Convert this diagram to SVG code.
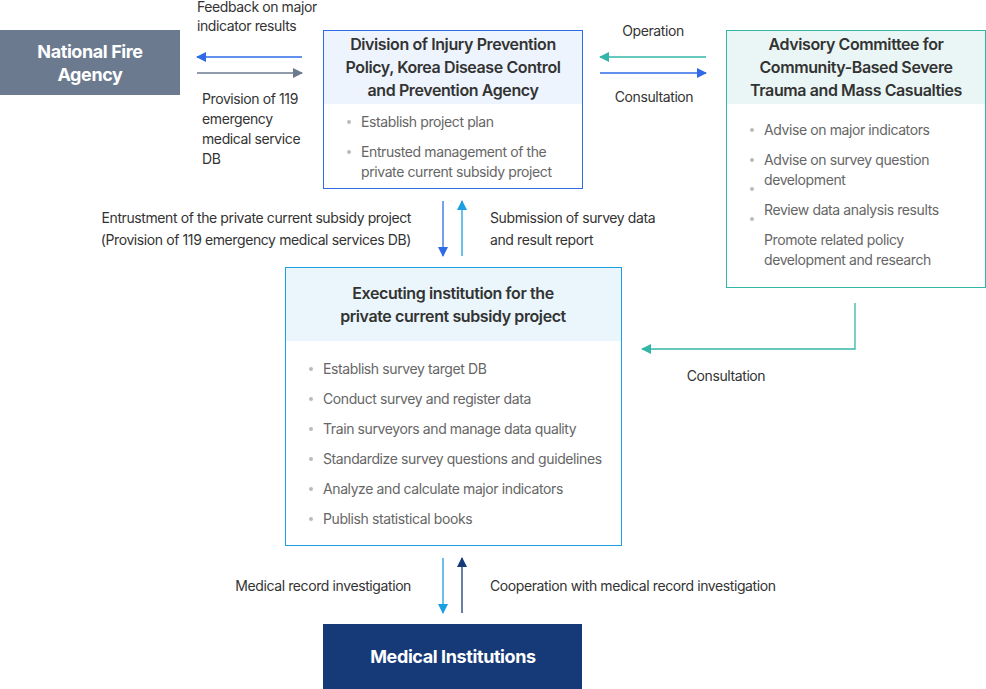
<svg xmlns="http://www.w3.org/2000/svg" width="986" height="689" viewBox="0 0 986 689">
<style>
text{font-family:Inter,"Noto Sans","Liberation Sans",sans-serif;letter-spacing:-0.4px}
.lbl{font-size:14px;fill:#333}
.b{font-size:14px;fill:#666}
.h{font-size:16px;font-weight:600;fill:#333;text-anchor:middle}
.w{font-size:18px;font-weight:700;fill:#fff;text-anchor:middle}
.dot{fill:#bbb}
</style>
<defs>
<marker id="mb" viewBox="0 0 10 10" refX="9" refY="5" markerWidth="10" markerHeight="10" markerUnits="userSpaceOnUse" orient="auto"><path d="M0,0L10,5L0,10z" fill="#2f6be6"/></marker>
<marker id="mg" viewBox="0 0 10 10" refX="9" refY="5" markerWidth="10" markerHeight="10" markerUnits="userSpaceOnUse" orient="auto"><path d="M0,0L10,5L0,10z" fill="#6b7a8f"/></marker>
<marker id="mt" viewBox="0 0 10 10" refX="9" refY="5" markerWidth="10" markerHeight="10" markerUnits="userSpaceOnUse" orient="auto"><path d="M0,0L10,5L0,10z" fill="#33b5a8"/></marker>
<marker id="ml" viewBox="0 0 10 10" refX="9" refY="5" markerWidth="10" markerHeight="10" markerUnits="userSpaceOnUse" orient="auto"><path d="M0,0L10,5L0,10z" fill="#1aa0e0"/></marker>
<marker id="mn" viewBox="0 0 10 10" refX="9" refY="5" markerWidth="10" markerHeight="10" markerUnits="userSpaceOnUse" orient="auto"><path d="M0,0L10,5L0,10z" fill="#163a78"/></marker>
</defs>
<g id="nfa"><rect x="0" y="30" width="180" height="65" fill="#6b7a8f"/><text class="w" x="90" y="58">National Fire</text><text class="w" x="90" y="81">Agency</text></g>
<g id="kdca"><rect x="323.5" y="30.5" width="259" height="158" fill="#fff" stroke="#2f6be6"/><rect x="324" y="31" width="258" height="73" fill="#eef4fd"/>
<text class="h" x="453" y="50">Division of Injury Prevention</text><text class="h" x="453" y="73">Policy, Korea Disease Control</text><text class="h" x="453" y="96">and Prevention Agency</text>
<circle class="dot" cx="349" cy="122" r="2"/><text class="b" x="361" y="127">Establish project plan</text>
<circle class="dot" cx="349" cy="152" r="2"/><text class="b" x="361" y="157">Entrusted management of the</text><text class="b" x="361" y="177">private current subsidy project</text></g>
<g id="adv"><rect x="726.5" y="30.5" width="259" height="257" fill="#fff" stroke="#33b5a8"/><rect x="727" y="31" width="258" height="73" fill="#eaf6f5"/>
<text class="h" x="856" y="50">Advisory Committee for</text><text class="h" x="856" y="73">Community-Based Severe</text><text class="h" x="856" y="96">Trauma and Mass Casualties</text>
<circle class="dot" cx="752" cy="130" r="2"/><text class="b" x="764" y="135">Advise on major indicators</text>
<circle class="dot" cx="752" cy="160" r="2"/><text class="b" x="764" y="165">Advise on survey question</text><text class="b" x="764" y="185">development</text>
<circle class="dot" cx="752" cy="189" r="2"/><text class="b" x="764" y="215">Review data analysis results</text>
<circle class="dot" cx="752" cy="219" r="2"/><text class="b" x="764" y="245">Promote related policy</text><text class="b" x="764" y="265">development and research</text></g>
<g id="exec"><rect x="285.5" y="267.5" width="336" height="278" fill="#fff" stroke="#1aa0e0"/><rect x="286" y="268" width="335" height="73" fill="#eaf6fb"/>
<text class="h" x="453" y="299">Executing institution for the</text><text class="h" x="453" y="322">private current subsidy project</text>
<g class="b"><circle class="dot" cx="311" cy="369" r="2"/><text x="323" y="374">Establish survey target DB</text>
<circle class="dot" cx="311" cy="399" r="2"/><text x="323" y="404">Conduct survey and register data</text>
<circle class="dot" cx="311" cy="429" r="2"/><text x="323" y="434">Train surveyors and manage data quality</text>
<circle class="dot" cx="311" cy="459" r="2"/><text x="323" y="464">Standardize survey questions and guidelines</text>
<circle class="dot" cx="311" cy="489" r="2"/><text x="323" y="494">Analyze and calculate major indicators</text>
<circle class="dot" cx="311" cy="519" r="2"/><text x="323" y="524">Publish statistical books</text></g></g>
<g id="med"><rect x="323" y="624" width="259" height="65" fill="#163a78"/><text class="w" x="453" y="663">Medical Institutions</text></g>
<g id="connectors" fill="none" stroke-width="1.3">
<line x1="302" y1="57" x2="197" y2="57" stroke="#2f6be6" marker-end="url(#mb)"/>
<line x1="197" y1="73" x2="302" y2="73" stroke="#6b7a8f" marker-end="url(#mg)"/>
<line x1="706" y1="57" x2="600" y2="57" stroke="#33b5a8" marker-end="url(#mt)"/>
<line x1="600" y1="73" x2="706" y2="73" stroke="#2f6be6" marker-end="url(#mb)"/>
<line x1="443" y1="201" x2="443" y2="256" stroke="#2f6be6" marker-end="url(#mb)"/>
<line x1="462" y1="256" x2="462" y2="201" stroke="#1aa0e0" marker-end="url(#ml)"/>
<polyline points="855,303 855,349 642,349" stroke="#33b5a8" marker-end="url(#mt)"/>
<line x1="443" y1="558" x2="443" y2="613" stroke="#1aa0e0" marker-end="url(#ml)"/>
<line x1="462" y1="613" x2="462" y2="558" stroke="#163a78" marker-end="url(#mn)"/>
</g>
<g id="labels" class="lbl">
<text x="197" y="12">Feedback on major</text><text x="197" y="31">indicator results</text>
<text x="202" y="104">Provision of 119</text><text x="202" y="124">emergency</text><text x="202" y="144">medical service</text><text x="202" y="164">DB</text>
<text x="653" y="36" text-anchor="middle">Operation</text>
<text x="654" y="102" text-anchor="middle">Consultation</text>
<text x="411" y="223" text-anchor="end">Entrustment of the private current subsidy project</text>
<text x="411" y="245" text-anchor="end">(Provision of 119 emergency medical services DB)</text>
<text x="490" y="223">Submission of survey data</text><text x="490" y="245">and result report</text>
<text x="726" y="381" text-anchor="middle">Consultation</text>
<text x="411" y="591" text-anchor="end">Medical record investigation</text>
<text x="490" y="591">Cooperation with medical record investigation</text>
</g>
</svg>
